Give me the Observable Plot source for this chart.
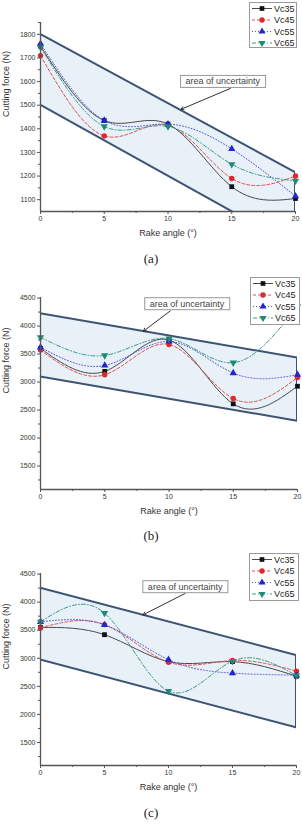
<!DOCTYPE html>
<html><head><meta charset="utf-8">
<script src="https://cdn.jsdelivr.net/npm/d3@7"></script>
<script src="https://cdn.jsdelivr.net/npm/@observablehq/plot@0.6"></script>
<style>
body{margin:0;background:#fff;font-family:"Liberation Sans",Arial,sans-serif;}
#root{position:relative;width:302px;height:838px;overflow:hidden;background:#fff}
.panel{position:absolute;left:0;width:302px}
.cap{position:absolute;left:0;width:302px;text-align:center;font-family:"Liberation Serif","DejaVu Serif",serif;font-size:13px;line-height:13px;color:#222}
</style>
</head><body>
<div id="root"></div>
<script>
// ---- data ----
const rakeAngles = [0, 5, 10, 15, 20];
const minorAngles = [2.5, 7.5, 12.5, 17.5];
const seriesNames = ["Vc35", "Vc45", "Vc55", "Vc65"];
const panelLabels = ["(a)", "(b)", "(c)"];
const xLabel = "Rake angle (°)";
const yLabel = "Cutting force (N)";
const noteText = "area of uncertainty";

// panel (a)
const aVc35 = [1750, 1435, 1420, 1155, 1105];
const aVc45 = [1710, 1370, 1415, 1190, 1200];
const aVc55 = [1760, 1435, 1420, 1315, 1115];
const aVc65 = [1745, 1410, 1410, 1250, 1180];
const aTicks = [1100, 1200, 1300, 1400, 1500, 1600, 1700, 1800];
const aMinor = [1150, 1250, 1350, 1450, 1550, 1650, 1750, 1850];
// panel (b)
const bVc35 = [3600, 3190, 3750, 2610, 2925];
const bVc45 = [3570, 3130, 3670, 2705, 3080];
const bVc55 = [3620, 3295, 3725, 3160, 3130];
const bVc65 = [3800, 3475, 3775, 3345, 4350];
// panel (c)
const cVc35 = [3550, 3420, 2940, 2940, 2680];
const cVc45 = [3540, 3600, 2930, 2960, 2770];
const cVc55 = [3650, 3595, 2975, 2735, 2700];
const cVc65 = [3650, 3805, 2415, 2950, 2690];
const bcTicks = [1500, 2000, 2500, 3000, 3500, 4000, 4500];
const bcMinor = [1250, 1750, 2250, 2750, 3250, 3750, 4250];

// uncertainty band (at rake angle 0 and 20)
const bandX = [0, 20];
const aBandUpper = [1800, 1215];
const aBandLower = [1500, 900];
const bBandUpper = [4220, 3430];
const bBandLower = [3090, 2300];
const cBandUpper = [4250, 3050];
const cBandLower = [2970, 1760];

// annotation (label position and arrow from/to, in data units)
const aNote = {x: 14.3, y: 1600, x1: 14.9, y1: 1571, x2: 11.0, y2: 1482};
const bNote = {x: 11.4, y: 4397, x1: 10.1, y1: 4270, x2: 8.0, y2: 3906};
const cNote = {x: 11.3, y: 4273, x1: 11.3, y1: 4155, x2: 8.0, y2: 3772};

// ---- styles ----
const triDown = {draw(c, size) {
  const s3 = Math.sqrt(3), y = -Math.sqrt(size / (s3 * 3));
  c.moveTo(0, -y * 2); c.lineTo(-s3 * y, y); c.lineTo(s3 * y, y); c.closePath();
}};
const styles = [
  {line: "#4a4a4a", dash: null, color: "#111111", symbol: "square", d3sym: d3.symbolSquare},
  {line: "#e05050", dash: "3,2", color: "#e3262b", symbol: "circle", d3sym: d3.symbolCircle},
  {line: "#5656cc", dash: "1,2", color: "#2424d6", symbol: "triangle", d3sym: d3.symbolTriangle},
  {line: "#3d998b", dash: "4,2,1,2", color: "#1f8a7a", symbol: triDown, d3sym: triDown}
];

// legend box positions are relative to each panel's svg
const panels = [
  {top: 0, height: 245, mt: 22, mb: 34, mr: 7, values: [aVc35, aVc45, aVc55, aVc65], yDomain: [1050, 1850], yTicks: aTicks, yMinor: aMinor,
   bandUpper: aBandUpper, bandLower: aBandLower, note: aNote, legend: {left: 249, top: 2, w: 48, h: 46}, capY: 258},
  {top: 270, height: 250, mt: 27, mb: 31, mr: 5, values: [bVc35, bVc45, bVc55, bVc65], yDomain: [1080, 4510], yTicks: bcTicks, yMinor: bcMinor,
   bandUpper: bBandUpper, bandLower: bBandLower, note: bNote, legend: {left: 250, top: 7, w: 50, h: 48}, capY: 535},
  {top: 545, height: 250, mt: 28, mb: 30, mr: 6, values: [cVc35, cVc45, cVc55, cVc65], yDomain: [1090, 4510], yTicks: bcTicks, yMinor: bcMinor,
   bandUpper: cBandUpper, bandLower: cBandLower, note: cNote, legend: {left: 249, top: 8, w: 50, h: 48}, capY: 812}
];

const root = document.getElementById("root");

panels.forEach((cfg, p) => {
  const rows = seriesNames.flatMap((s, i) => rakeAngles.map((x, j) => ({series: s, x, y: cfg.values[i][j]})));
  const band = bandX.map((x, i) => ({x, lo: cfg.bandLower[i], hi: cfg.bandUpper[i]}));
  const chart = Plot.plot({
    width: 302, height: cfg.height,
    marginTop: cfg.mt, marginBottom: cfg.mb, marginLeft: 40, marginRight: cfg.mr,
    style: {background: "transparent", fontFamily: "Liberation Sans, Arial, sans-serif", color: "#333", overflow: "visible"},
    x: {domain: [0, 20]},
    y: {domain: cfg.yDomain},
    marks: [
      Plot.areaY(band, {x: "x", y1: "lo", y2: "hi", fill: "#e8f0f8", stroke: "#3c5373", strokeWidth: 2, clip: true}),
      ...seriesNames.map((s, i) => Plot.line(rows.filter(d => d.series === s), {
        x: "x", y: "y", curve: "natural", stroke: styles[i].line, strokeWidth: 1,
        strokeDasharray: styles[i].dash, clip: true})),
      ...seriesNames.map((s, i) => Plot.dot(rows.filter(d => d.series === s), {
        x: "x", y: "y", symbol: styles[i].symbol, fill: styles[i].color, stroke: "none", r: 2.7})),
      Plot.arrow([cfg.note], {x1: "x1", y1: "y1", x2: "x2", y2: "y2", stroke: "#333", strokeWidth: 1, headLength: 5}),
      Plot.text([cfg.note], {x: "x", y: "y", text: () => noteText, fontSize: 9, fill: "#444"}),
      Plot.axisX({ticks: rakeAngles, tickSize: 3, tickPadding: 2, fontSize: 7, label: null, tickFormat: "d", stroke: "#555"}),
      Plot.axisX({ticks: minorAngles, tickSize: 2, text: null, label: null, stroke: "#555"}),
      Plot.axisY({ticks: cfg.yTicks, tickSize: 3, tickPadding: 2, fontSize: 7, label: null, tickFormat: "d", stroke: "#555"}),
      Plot.axisY({ticks: cfg.yMinor, tickSize: 2, text: null, label: null, stroke: "#555"}),
      Plot.ruleX([0], {stroke: "#555", strokeWidth: 1.3}),
      Plot.ruleY([cfg.yDomain[0]], {stroke: "#555", strokeWidth: 1.3}),
      Plot.text([xLabel], {frameAnchor: "bottom", dy: 24, fontSize: 9, fill: "#333"}),
      Plot.text([yLabel], {frameAnchor: "left", rotate: -90, dx: -34, fontSize: 9, fill: "#333"})
    ]
  });
  const wrap = document.createElement("div");
  wrap.className = "panel";
  wrap.style.top = cfg.top + "px";
  wrap.appendChild(chart);
  root.appendChild(wrap);

  // box behind the annotation text
  d3.select(chart).selectAll("text").filter(function() { return this.textContent === noteText; }).each(function() {
    const bb = this.getBBox();
    const g = this.parentNode;
    d3.select(g).insert("rect", () => this)
      .attr("x", bb.x - 5).attr("y", bb.y - 1).attr("width", bb.width + 10).attr("height", bb.height + 2)
      .attr("fill", "#fff").attr("stroke", "#999").attr("stroke-width", 1)
      .attr("transform", this.getAttribute("transform"));
  });

  // legend drawn last inside the svg so it covers the curves
  const L = cfg.legend;
  const lg = d3.select(chart).append("g").attr("transform", `translate(${L.left},${L.top})`)
    .attr("text-anchor", "start");
  lg.append("rect").attr("x", 0.5).attr("y", 0.5).attr("width", L.w - 1).attr("height", L.h - 1)
    .attr("fill", "#fff").attr("stroke", "#9a9a9a").attr("stroke-width", 1);
  seriesNames.forEach((s, i) => {
    const y = 6.5 + i * 11.5;
    lg.append("line").attr("x1", 3).attr("x2", 23).attr("y1", y).attr("y2", y)
      .attr("stroke", styles[i].line).attr("stroke-width", 1).attr("stroke-dasharray", styles[i].dash);
    lg.append("path").attr("d", d3.symbol(styles[i].d3sym, 22)()).attr("transform", `translate(13,${y})`).attr("fill", styles[i].color);
    lg.append("text").attr("x", 25).attr("y", y).attr("dy", "0.35em").attr("font-size", 9)
      .attr("text-anchor", "start")
      .attr("font-family", "Liberation Sans, Arial, sans-serif").attr("fill", "#222").text(s);
  });

  const cap = document.createElement("div");
  cap.className = "cap";
  cap.style.top = (cfg.capY - 6.5) + "px";
  cap.textContent = panelLabels[p];
  root.appendChild(cap);
});
</script>
</body></html>
